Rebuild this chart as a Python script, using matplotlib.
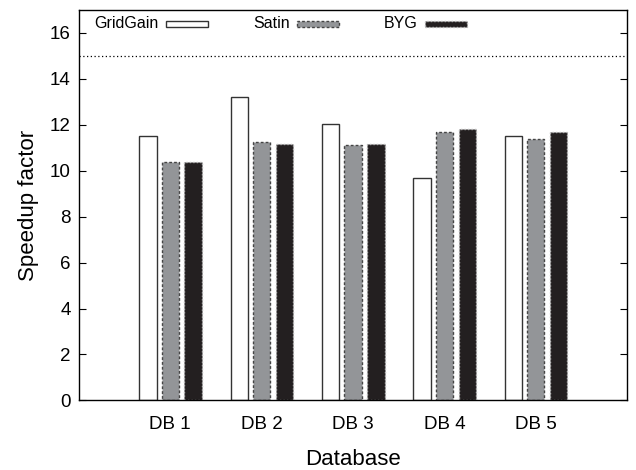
import numpy as np
import matplotlib
import matplotlib.pyplot as plt
from matplotlib.patches import Rectangle

matplotlib.rc('font', family=['Liberation Sans', 'DejaVu Sans'])

databases = ['DB 1', 'DB 2', 'DB 3', 'DB 4', 'DB 5']
gridgain = [11.5, 13.2, 12.05, 9.7, 11.5]
satin = [10.4, 11.25, 11.1, 11.7, 11.4]
byg = [10.4, 11.15, 11.15, 11.8, 11.7]
series_names = ['GridGain', 'Satin', 'BYG']
limit = 15

styles = [
    dict(facecolor='white', edgecolor='#333333', linestyle='-', linewidth=1.0),
    dict(facecolor='#939598', edgecolor='#444444', linestyle=(0, (2, 1.5)), linewidth=1.0),
    dict(facecolor='#231f20', edgecolor='#bbbbbb', linestyle=(0, (1, 1.5)), linewidth=1.0),
]


def speedupPlot():
    fig = plt.figure(figsize=(6.36, 4.70), dpi=100)
    ax = fig.add_axes([0.124, 0.148, 0.862, 0.831])

    x = np.arange(1, len(databases) + 1)
    width = 0.19
    offsets = [-0.245, 0.0, 0.25]
    for vals, off, st in zip([gridgain, satin, byg], offsets, styles):
        ax.bar(x + off, vals, width, **st)

    ax.axhline(limit, color='black', linestyle=(0, (1, 2)), linewidth=0.9)

    # key: label right-aligned in front of a sample box
    box_x = [0.159, 0.398, 0.631]
    for name, bx, st in zip(series_names, box_x, styles):
        ax.add_patch(Rectangle((bx, 0.956), 0.077, 0.0155, transform=ax.transAxes,
                               clip_on=False, **st))
        ax.text(bx - 0.013, 0.966, name, transform=ax.transAxes,
                ha='right', va='center', fontsize=11.5)

    ax.set_xlim(0, 6)
    ax.set_ylim(0, 17)
    ax.set_xticks(x)
    ax.set_xticklabels(databases)
    ax.set_yticks(np.arange(0, 17, 2))
    ax.tick_params(axis='y', direction='in', length=5, right=True,
                   labelsize=13.5, pad=6)
    ax.tick_params(axis='x', length=0, labelsize=13.5, pad=11)
    for sp in ax.spines.values():
        sp.set_linewidth(1.0)

    ax.set_xlabel('Database', fontsize=16, labelpad=12)
    ax.set_ylabel('Speedup factor', fontsize=16, labelpad=8)

    plt.savefig('out.png', dpi=100)


if __name__ == '__main__':
    speedupPlot()
